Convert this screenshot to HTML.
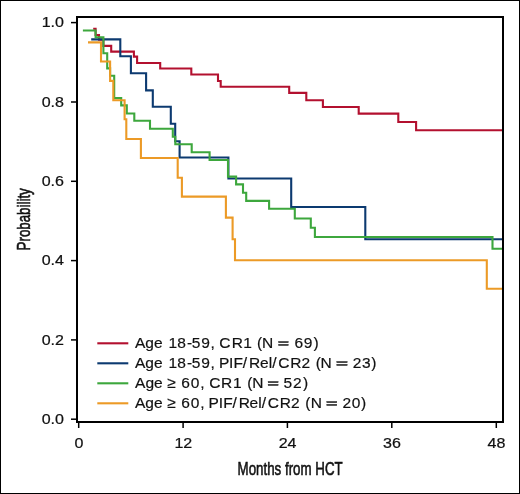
<!DOCTYPE html>
<html>
<head>
<meta charset="utf-8">
<style>
html,body{margin:0;padding:0;background:#fff;}
body{width:520px;height:494px;overflow:hidden;}
svg{display:block;will-change:transform;}
text{font-family:"Liberation Sans",sans-serif;fill:#111;}
</style>
</head>
<body>
<svg width="520" height="494" viewBox="0 0 520 494">
<rect x="0" y="0" width="520" height="494" fill="#fff"/>
<rect x="0.5" y="0.5" width="519" height="493" fill="none" stroke="#000" stroke-width="1"/>
<rect x="77" y="17" width="426" height="405" fill="none" stroke="#000" stroke-width="2"/>
<g stroke="#000" stroke-width="1.5">
<line x1="71" y1="22.6" x2="76" y2="22.6"/>
<line x1="71" y1="102" x2="76" y2="102"/>
<line x1="71" y1="181.3" x2="76" y2="181.3"/>
<line x1="71" y1="260.6" x2="76" y2="260.6"/>
<line x1="71" y1="339.9" x2="76" y2="339.9"/>
<line x1="71" y1="419.2" x2="76" y2="419.2"/>
<line x1="78.7" y1="423" x2="78.7" y2="428"/>
<line x1="183.1" y1="423" x2="183.1" y2="428"/>
<line x1="287.4" y1="423" x2="287.4" y2="428"/>
<line x1="391.8" y1="423" x2="391.8" y2="428"/>
<line x1="496.3" y1="423" x2="496.3" y2="428"/>
</g>
<g font-size="15" text-anchor="end" stroke="#111" stroke-width="0.22">
<text transform="translate(64.0,27.4) scale(1.07,1)">1.0</text>
<text transform="translate(64.0,106.8) scale(1.07,1)">0.8</text>
<text transform="translate(64.0,186.1) scale(1.07,1)">0.6</text>
<text transform="translate(64.0,265.4) scale(1.07,1)">0.4</text>
<text transform="translate(64.0,344.7) scale(1.07,1)">0.2</text>
<text transform="translate(64.0,424.0) scale(1.07,1)">0.0</text>
</g>
<g font-size="15" text-anchor="middle" stroke="#111" stroke-width="0.22">
<text transform="translate(78.9,447.5) scale(1.07,1)">0</text>
<text transform="translate(183.29999999999998,447.5) scale(1.07,1)">12</text>
<text transform="translate(287.59999999999997,447.5) scale(1.07,1)">24</text>
<text transform="translate(392.0,447.5) scale(1.07,1)">36</text>
<text transform="translate(496.5,447.5) scale(1.07,1)">48</text>
</g>
<g stroke="#111" stroke-width="0.6" font-size="18.5">
<text x="0" y="0" transform="translate(237.6,474.7) scale(0.72,1)">Months from HCT</text>
<text x="0" y="0" transform="translate(30.3,250.4) rotate(-90) scale(0.72,1)">Probability</text>
</g>
<g fill="none" stroke-width="2.1" stroke-linejoin="miter" stroke-linecap="butt">
<path stroke="#b3102f" d="M93.2,28.8 H95.6 V35 H99 V39.6 H103.4 V45.9 H111.2 V51.6 H133.9 V56.6 H137.1 V63 H160.2 V68.5 H191.3 V74.5 H218 V81 H220.7 V86.8 H289.2 V92.9 H306.3 V100.2 H322.9 V107 H358.7 V113.6 H398.3 V122 H416.1 V130.3 H502"/>
<path stroke="#0c3a70" d="M91.2,39.4 H120.3 V56.2 H130.9 V73.3 H146.1 V90.4 H152.8 V106.8 H170.8 V123.7 H175.2 V141.2 H179.6 V157.5 H228.4 V178.5 H291.2 V207 H365.3 V239.3 H502"/>
<path stroke="#3da73d" d="M82.9,30.5 H95.6 V37.2 H103.4 V53.2 H107.2 V68.4 H110.1 V75.8 H114.2 V98.1 H121.2 V105.4 H126.8 V113.5 H134.3 V120.7 H150 V128.7 H172.8 V136.8 H175.3 V144.3 H191.7 V152.2 H209.6 V160 H228 V176.6 H236.1 V184.4 H243 V192.8 H246.2 V200.9 H269.1 V208.8 H294.8 V218.5 H310.8 V227.8 H314.9 V237 H492.5 V248.7 H502"/>
<path stroke="#ec9a26" d="M88,42.4 H101 V61.5 H110.1 V80.9 H113.3 V100.2 H124.6 V119.3 H126.3 V139 H140.9 V158 H177.7 V177.7 H181.9 V196.6 H225.9 V217.6 H232.6 V239.3 H235 V260.2 H486.8 V288.8 H502"/>
</g>
<g font-size="15.5" stroke="#111" stroke-width="0.2">
<line x1="97.3" y1="343.3" x2="128.3" y2="343.3" stroke="#b3102f" stroke-width="2.1"/>
<text transform="translate(0,347.8) scale(1.0,1)" x="135.00" y="0">Age</text>
<text transform="translate(0,347.8) scale(1.0,1)" x="168.62 177.33 187.01 191.68 201.17 210.61" y="0">18-59,</text>
<text transform="translate(0,347.8) scale(1.0,1)" x="219.21 231.73 243.22" y="0">CR1</text>
<text transform="translate(0,347.8) scale(1.0,1)" x="256.94 261.93" y="0">(N</text>
<text transform="translate(0,347.8) scale(1.0,1)" x="294.41 303.87 313.41" y="0">69)</text>
<rect x="278.4" y="341.4" width="10.1" height="1.3" fill="#111"/>
<rect x="278.4" y="344.3" width="10.1" height="1.3" fill="#111"/>
<line x1="97.3" y1="363.3" x2="128.3" y2="363.3" stroke="#0c3a70" stroke-width="2.1"/>
<text transform="translate(0,367.8) scale(1.0,1)" x="135.00" y="0">Age</text>
<text transform="translate(0,367.8) scale(1.0,1)" x="168.62 177.33 187.01 191.68 201.17 210.61" y="0">18-59,</text>
<text transform="translate(0,367.8) scale(1.0,1)" x="218.93 229.07 233.53 242.8 249.03 259.94 268.76 272.2 278.21 290.23 301.42" y="0">PIF/Rel/CR2</text>
<text transform="translate(0,367.8) scale(1.0,1)" x="315.84 320.53" y="0">(N</text>
<text transform="translate(0,367.8) scale(1.0,1)" x="352.82 361.91 371.31" y="0">23)</text>
<rect x="336.7" y="361.4" width="10.7" height="1.3" fill="#111"/>
<rect x="336.7" y="364.3" width="10.7" height="1.3" fill="#111"/>
<line x1="97.3" y1="383.3" x2="128.3" y2="383.3" stroke="#3da73d" stroke-width="2.1"/>
<text transform="translate(0,387.8) scale(1.0,1)" x="135.10" y="0">Age</text>
<text transform="translate(0,387.8) scale(1.0,1)" x="167.21 181.31 190.69 200.21" y="0">&#8805;60,</text>
<text transform="translate(0,387.8) scale(1.0,1)" x="209.31 220.93 232.92" y="0">CR1</text>
<text transform="translate(0,387.8) scale(1.0,1)" x="247.34 252.13" y="0">(N</text>
<text transform="translate(0,387.8) scale(1.0,1)" x="283.38 293.02 303.11" y="0">52)</text>
<rect x="268.0" y="381.4" width="10.3" height="1.3" fill="#111"/>
<rect x="268.0" y="384.3" width="10.3" height="1.3" fill="#111"/>
<line x1="97.3" y1="403.3" x2="128.3" y2="403.3" stroke="#ec9a26" stroke-width="2.1"/>
<text transform="translate(0,407.8) scale(1.0,1)" x="135.00" y="0">Age</text>
<text transform="translate(0,407.8) scale(1.0,1)" x="167.21 181.31 190.69 200.21" y="0">&#8805;60,</text>
<text transform="translate(0,407.8) scale(1.0,1)" x="208.53 218.67 223.13 232.4 238.63 249.54 258.36 261.8 267.81 279.83 291.02" y="0">PIF/Rel/CR2</text>
<text transform="translate(0,407.8) scale(1.0,1)" x="305.24 310.63" y="0">(N</text>
<text transform="translate(0,407.8) scale(1.0,1)" x="342.62 351.79 361.11" y="0">20)</text>
<rect x="326.7" y="401.4" width="10.2" height="1.3" fill="#111"/>
<rect x="326.7" y="404.3" width="10.2" height="1.3" fill="#111"/>
</g>
</svg>
</body>
</html>
